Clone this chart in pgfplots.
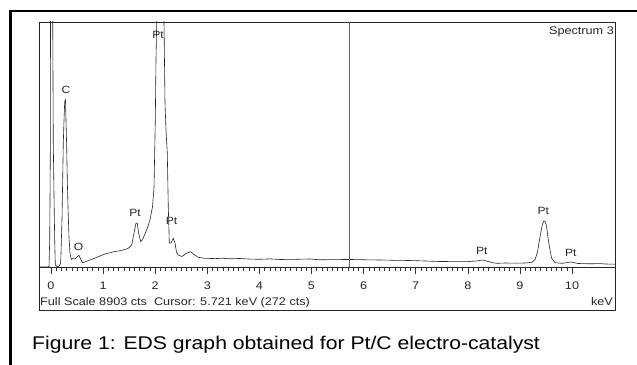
\documentclass[border=0pt]{standalone}
\usepackage{pgfplots}
\pgfplotsset{compat=1.18}
\usepackage{fontspec}
\setmainfont{Liberation Sans}[FakeStretch=1.15]

\pgfplotstableread{
kev cts
-0.230 0
-0.096 0
-0.038 11
-0.025 981
-0.019 2435
-0.013 4252
-0.0096 8903
0.0096 25000
0.033 8903
0.044 4506
0.058 2555
0.071 981
0.083 73
0.115 18
0.154 25
0.186 145
0.211 1708
0.225 3282
0.236 4506
0.250 5342
0.263 6007
0.278 6069
0.288 5342
0.301 4372
0.313 3162
0.326 2191
0.345 1101
0.365 498
0.390 273
0.422 327
0.461 291
0.499 363
0.537 425
0.576 254
0.608 156
0.672 200
0.749 254
0.845 327
0.940 400
1.036 472
1.132 520
1.228 563
1.324 592
1.420 636
1.484 680
1.549 799
1.593 1225
1.631 1588
1.656 1588
1.683 1225
1.722 919
1.766 1036
1.837 1345
1.900 1708
1.948 2191
1.977 2871
2.002 5342
2.015 7522
2.029 8903
2.092 30000
2.169 8903
2.188 5960
2.207 4979
2.232 4143
2.251 2191
2.271 872
2.303 872
2.347 1043
2.380 872
2.409 545
2.443 436
2.514 382
2.591 491
2.681 556
2.745 454
2.827 352
2.956 316
3.148 305
3.282 320
3.436 298
3.628 309
3.820 287
4.012 280
4.203 294
4.395 273
4.587 276
4.779 283
4.971 291
5.163 262
5.451 269
5.752 273
6.027 262
6.315 254
6.603 243
6.891 236
7.179 218
7.466 200
7.754 196
8.004 196
8.157 218
8.286 254
8.388 200
8.484 153
8.560 134
8.714 145
8.906 138
9.098 145
9.232 171
9.290 273
9.338 545
9.386 1101
9.424 1490
9.453 1653
9.482 1672
9.511 1490
9.545 981
9.578 618
9.610 316
9.674 156
9.808 134
9.975 182
10.115 127
10.345 116
10.537 124
10.633 109
10.825 102
}\spectrum

\begin{document}
\begin{tikzpicture}[x=1pt,y=1pt]
\useasboundingbox (0,0) rectangle (637,364);
\clip (0,0) rectangle (637,364);
\draw[line width=2.4pt] (10.5,-5) -- (10.5,353) -- (645,353);
\draw[line width=0.9pt, black!85] (39,54) rectangle (615,342);
\begin{axis}[
  at={(39pt,97pt)}, anchor=south west,
  scale only axis, width=576pt, height=245pt,
  xmin=-0.2303, xmax=10.825, ymin=0, ymax=8903,
  axis line style={black!85, line width=0.9pt},
  xtick={0,...,10}, minor x tick num=9, ytick=\empty,
  xtick pos=bottom, tick align=outside,
  major tick length=7pt, minor tick length=4pt,
  tick style={black!80, line width=0.6pt},
  /pgf/number format/assume math mode=true,
  xticklabel style={font=\fontsize{11}{11}\selectfont, black!85, yshift=-4pt},
]
\addplot[black!85, line width=0.6pt, mark=none] table[x=kev, y=cts] {\spectrum};
\addplot[black!60, line width=0.8pt, mark=none] coordinates {(5.721,0) (5.721,8903)};
\begin{scope}[every node/.style={font=\fontsize{10.5}{10.5}\selectfont, black!85, inner sep=0pt}]
\node at (axis cs:0.288,6432) {C};
\node at (axis cs:2.054,8431) {Pt};
\node at (axis cs:1.612,1973) {Pt};
\node at (axis cs:2.313,1690) {Pt};
\node at (axis cs:0.528,727) {O};
\node at (axis cs:8.267,581) {Pt};
\node at (axis cs:9.449,2046) {Pt};
\node at (axis cs:9.975,520) {Pt};
\end{scope}
\end{axis}
\node[anchor=east, inner sep=0pt, font=\fontsize{11}{11}\selectfont, black!85] at (614,332.3) {Spectrum 3};
\node[anchor=base west, inner sep=0pt, font=\fontsize{11}{11}\selectfont, black!85] at (40,58) {Full Scale 8903 cts\ \ Cursor: 5.721 keV (272 cts)};
\node[anchor=base east, inner sep=0pt, font=\fontsize{11}{11}\selectfont, black!85] at (613,58) {keV};
\node[anchor=base west, inner sep=0pt, font=\fontsize{18.4}{18.4}\selectfont] at (32,14) {Figure 1: EDS graph obtained for Pt/C electro-catalyst};
\end{tikzpicture}
\end{document}
